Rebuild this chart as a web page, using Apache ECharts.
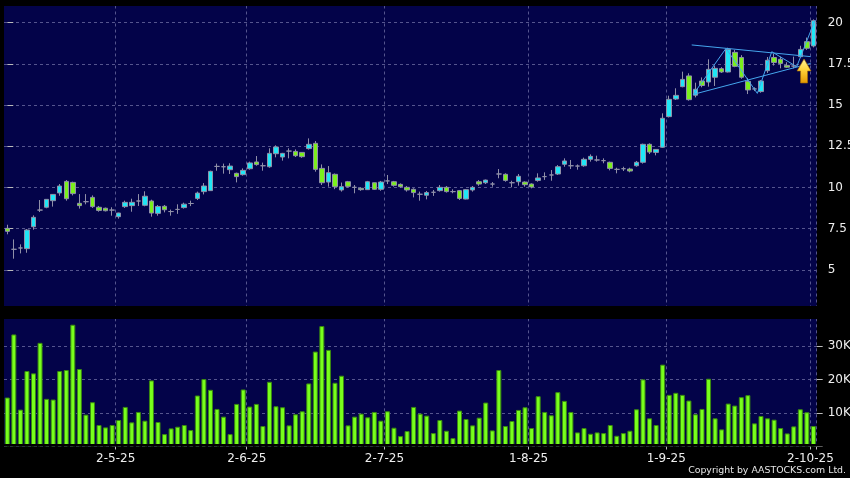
<!DOCTYPE html>
<html><head><meta charset="utf-8">
<script src="https://cdn.jsdelivr.net/npm/echarts@6/dist/echarts.min.js"></script>
<style>html,body{margin:0;padding:0;background:#000;}#c{width:850px;height:478px;}</style>
</head><body><div id="c"></div>
<script>
const categories = ['3-4-25','7-4-25','8-4-25','9-4-25','10-4-25','11-4-25','14-4-25','15-4-25','16-4-25','17-4-25','22-4-25','23-4-25','24-4-25','25-4-25','28-4-25','29-4-25','30-4-25',
'2-5-25','6-5-25','7-5-25','8-5-25','9-5-25','12-5-25','13-5-25','14-5-25','15-5-25','16-5-25','19-5-25','20-5-25','21-5-25','22-5-25','23-5-25','26-5-25','27-5-25','28-5-25','29-5-25','30-5-25',
'2-6-25','3-6-25','4-6-25','5-6-25','6-6-25','9-6-25','10-6-25','11-6-25','12-6-25','13-6-25','16-6-25','17-6-25','18-6-25','19-6-25','20-6-25','23-6-25','24-6-25','25-6-25','26-6-25','27-6-25','30-6-25',
'2-7-25','3-7-25','4-7-25','7-7-25','8-7-25','9-7-25','10-7-25','11-7-25','14-7-25','15-7-25','16-7-25','17-7-25','18-7-25','21-7-25','22-7-25','23-7-25','24-7-25','25-7-25','28-7-25','29-7-25','30-7-25','31-7-25',
'1-8-25','4-8-25','5-8-25','6-8-25','7-8-25','8-8-25','11-8-25','12-8-25','13-8-25','14-8-25','15-8-25','18-8-25','19-8-25','20-8-25','21-8-25','22-8-25','25-8-25','26-8-25','27-8-25','28-8-25','29-8-25',
'1-9-25','2-9-25','3-9-25','4-9-25','5-9-25','8-9-25','9-9-25','10-9-25','11-9-25','12-9-25','15-9-25','16-9-25','17-9-25','18-9-25','19-9-25','22-9-25','23-9-25','24-9-25','25-9-25','26-9-25','29-9-25','30-9-25',
'2-10-25'];

const tickLabels = ['2-5-25','2-6-25','2-7-25','1-8-25','1-9-25','2-10-25'];

const opens = [7.52,6.25,6.33,6.29,7.62,8.63,8.80,9.20,9.67,10.37,
10.31,9.04,9.14,9.40,8.80,8.74,8.63,8.23,8.84,8.90,
9.18,8.92,9.18,8.43,8.86,8.54,8.67,8.78,9.03,9.34,
9.75,9.81,11.28,11.26,11.08,10.86,10.78,11.14,11.55,11.32,
11.26,12.05,11.85,12.21,12.19,12.13,12.36,12.68,11.16,10.33,
10.80,9.85,10.35,10.01,9.95,9.87,10.29,9.89,10.40,10.35,
10.19,10.01,9.89,9.59,9.53,9.71,9.81,10.01,9.75,9.81,
9.30,9.85,10.35,10.29,10.21,10.82,10.80,10.29,10.35,10.33,
10.21,10.43,10.66,10.76,10.82,11.41,11.32,11.30,11.32,11.71,
11.67,11.63,11.53,11.10,11.14,11.12,11.32,11.53,12.62,12.13,
12.44,14.30,15.37,16.12,16.77,15.60,16.46,16.40,16.69,17.21,
17.01,18.20,17.89,16.44,15.98,15.82,17.09,17.89,17.78,17.41,
17.37,17.94,18.85,18.59];

const closes = [7.34,6.25,6.33,7.42,8.19,8.63,9.28,9.58,10.09,9.32,
9.63,8.90,9.14,8.84,8.61,8.59,8.63,8.45,9.10,9.10,
9.18,9.47,8.45,8.85,8.65,8.54,8.67,8.99,9.03,9.66,
10.09,10.98,11.28,11.26,11.30,10.66,11.04,11.49,11.39,11.32,
12.07,12.46,12.07,12.21,11.93,11.87,12.62,11.10,10.29,10.90,
10.05,10.05,10.07,10.01,9.87,10.35,9.89,10.33,10.40,10.13,
10.05,9.85,9.69,9.59,9.69,9.71,10.01,9.75,9.75,9.34,
9.87,10.01,10.21,10.45,10.21,10.82,10.43,10.29,10.68,10.17,
10.03,10.58,10.66,10.76,11.26,11.61,11.32,11.30,11.71,11.89,
11.67,11.63,11.16,11.10,11.14,11.00,11.53,12.62,12.15,12.31,
14.20,15.35,15.59,16.56,15.33,15.96,16.19,17.17,17.23,17.01,
18.39,17.35,16.69,15.92,15.98,16.46,17.72,17.59,17.53,17.30,
17.37,18.38,18.45,20.12];

const lows = [7.16,5.68,6.00,6.04,7.44,8.51,8.74,8.84,9.50,9.20,
9.52,8.72,8.98,8.76,8.53,8.55,8.29,8.11,8.76,8.53,
8.88,8.86,8.23,8.29,8.49,8.29,8.40,8.72,8.87,9.24,
9.58,9.81,11.02,10.84,10.82,10.31,10.72,11.08,11.32,11.02,
11.20,11.83,11.63,11.77,11.85,11.80,12.30,10.96,10.15,10.05,
9.90,9.75,10.00,9.65,9.80,9.85,9.85,9.80,10.21,10.05,
9.99,9.75,9.40,9.20,9.28,9.49,9.75,9.69,9.65,9.24,
9.28,9.75,10.10,10.21,10.05,10.56,10.35,10.01,10.11,10.05,
9.95,10.35,10.46,10.41,10.76,11.26,11.12,11.08,11.26,11.57,
11.57,11.47,11.04,10.86,11.00,10.92,11.26,11.45,12.03,11.95,
12.40,14.25,15.31,16.08,15.27,15.47,16.08,16.12,16.16,16.95,
16.98,17.30,16.60,15.67,15.85,15.75,16.95,17.40,17.23,17.25,
17.23,17.90,18.35,18.50];

const highs = [7.74,6.85,6.55,7.48,8.31,9.24,9.30,9.60,10.21,10.45,
10.35,9.60,9.60,9.52,8.88,8.78,8.80,8.47,9.20,9.32,
9.60,9.77,9.26,8.94,8.94,8.66,8.98,9.08,9.20,9.75,
10.27,11.02,11.45,11.45,11.47,10.90,11.16,11.57,11.91,11.51,
12.38,12.56,12.10,12.38,12.31,12.15,12.98,12.82,11.40,11.30,
10.85,10.30,10.40,10.15,10.00,10.40,10.30,10.40,10.76,10.40,
10.25,10.09,9.95,9.75,9.79,9.85,10.15,10.09,9.89,9.85,
9.90,10.09,10.45,10.48,10.33,11.12,10.86,10.41,10.82,10.37,
10.25,10.86,10.92,11.06,11.36,11.77,11.67,11.40,11.81,12.01,
11.93,11.77,11.57,11.20,11.26,11.20,11.61,12.66,12.68,12.33,
14.50,15.57,16.02,17.03,16.93,16.36,16.68,17.78,17.40,17.30,
18.48,18.34,18.03,16.65,16.08,16.52,17.92,18.12,17.94,17.60,
17.94,18.60,19.10,20.20];

// volume in thousands of shares
const volumesK = [14.6,33.4,11.0,22.5,21.8,30.9,14.2,14.0,22.5,22.8,
36.3,23.1,9.5,13.2,6.4,5.7,6.4,7.9,11.8,7.2,
10.3,7.7,19.7,7.3,3.7,5.4,5.9,6.4,4.9,15.2,
20.1,16.9,11.2,8.9,3.7,12.7,17.0,11.9,12.7,6.1,
19.3,12.0,11.7,6.3,9.6,10.5,18.8,28.3,35.9,28.8,
19.0,21.1,6.3,8.9,9.8,8.7,10.3,7.7,10.5,5.6,
3.1,4.6,11.8,9.8,9.2,4.0,7.9,4.7,2.5,10.7,
8.2,6.3,8.6,13.1,4.8,22.8,6.1,7.6,10.9,11.7,
5.5,15.0,10.3,9.3,16.2,13.6,10.3,4.2,5.5,3.8,
4.2,4.0,6.4,3.2,4.0,4.7,11.1,20.0,8.4,6.4,
24.4,15.4,16.0,15.4,13.7,9.6,11.2,20.2,8.4,5.1,
12.8,12.2,14.7,15.3,6.9,9.1,8.4,8.0,5.5,3.9,
6.0,11.1,10.2,6.1];

// drawn trend lines (x = bar index, y = price)
const upperLine = [[104.43, 18.65], [122.58, 17.94]];
const lowerLine = [[104.67, 15.65], [122.58, 17.53]];
const zigzagLine = [[104.67, 15.65], [109.66, 18.44], [114.44, 15.71], [116.64, 18.24], [120.45, 17.33], [123.24, 20.16]];
const arrowPoint = [[121.57, 17.07]];

const tickIdx = new Set(tickLabels.map(t => categories.indexOf(t)));
const showAt = (i) => tickIdx.has(i);

const NAVY = '#030349';
const GRID_LINE = { color: '#55558e', type: [3, 3], width: 1 };
const FONT = 'DejaVu Sans';

const chart = echarts.init(document.getElementById('c'), null, { renderer: 'canvas' });
const ohlc = categories.map((_, i) => [opens[i], closes[i], lows[i], highs[i]]);
const lineStyleTL = { color: '#45a6ee', width: 1 };

chart.setOption({
  animation: false,
  backgroundColor: '#000000',
  textStyle: { fontFamily: FONT },
  grid: [
    { left: 4, right: 33.3, top: -18.5, height: 329.6, show: true, backgroundColor: NAVY, borderWidth: 0, outerBoundsMode: 'none', containLabel: false },
    { left: 4, right: 33.3, top: 312.3, height: 134.2, show: true, backgroundColor: NAVY, borderWidth: 0, outerBoundsMode: 'none', containLabel: false }
  ],
  xAxis: [
    { type: 'category', gridIndex: 0, data: categories, boundaryGap: true,
      axisLine: { show: false }, axisTick: { show: false }, axisLabel: { show: false },
      splitLine: { show: true, interval: showAt, lineStyle: GRID_LINE } },
    { type: 'category', gridIndex: 1, data: categories, boundaryGap: true,
      axisLine: { show: false },
      axisTick: { show: true, interval: showAt, length: 3, lineStyle: { color: '#bbbbbb' } },
      axisLabel: { show: true, interval: showAt, color: '#eeeeee', fontSize: 12, fontFamily: FONT, margin: 6, padding: [0, 6, 0, 0] },
      splitLine: { show: true, interval: showAt, lineStyle: GRID_LINE } },
    { type: 'value', gridIndex: 0, min: -0.5, max: 123.5, show: false }
  ],
  yAxis: [
    { type: 'value', gridIndex: 0, position: 'right', min: 2.5, max: 22.5, interval: 2.5,
      axisLine: { show: false },
      axisTick: { show: true, length: 6, lineStyle: { color: '#bbbbbb' } },
      axisLabel: { color: '#eeeeee', fontSize: 12, fontFamily: FONT, margin: 11,
        formatter: v => (v < 4 || v > 21) ? '' : String(v) },
      splitLine: { show: true, lineStyle: GRID_LINE } },
    { type: 'value', gridIndex: 1, position: 'right', min: 0, max: 40, interval: 10,
      axisLine: { show: false },
      axisTick: { show: true, length: 6, lineStyle: { color: '#bbbbbb' } },
      axisLabel: { color: '#eeeeee', fontSize: 12, fontFamily: FONT, margin: 11,
        formatter: v => (v <= 0 || v >= 40) ? '' : v + 'K' },
      splitLine: { show: true, lineStyle: GRID_LINE } }
  ],
  series: [
    { type: 'candlestick', xAxisIndex: 0, yAxisIndex: 0, data: ohlc, barWidth: 5,
      itemStyle: { color: '#1fe6f6', color0: '#7bf01c', borderColor: '#9090a8', borderColor0: '#9090a8', borderWidth: 1 } },
    { type: 'bar', xAxisIndex: 1, yAxisIndex: 1, data: volumesK, barWidth: 5,
      itemStyle: { color: '#78ff1c', borderColor: '#3a8a10', borderWidth: 1 } },
    { type: 'line', xAxisIndex: 2, yAxisIndex: 0, data: upperLine, symbol: 'none', lineStyle: lineStyleTL, z: 5 },
    { type: 'line', xAxisIndex: 2, yAxisIndex: 0, data: lowerLine, symbol: 'none', lineStyle: lineStyleTL, z: 5 },
    { type: 'line', xAxisIndex: 2, yAxisIndex: 0, data: zigzagLine, symbol: 'none', lineStyle: lineStyleTL, z: 5 },
    { type: 'scatter', xAxisIndex: 2, yAxisIndex: 0, data: arrowPoint,
      symbol: 'path://M7,0L14,12L10.5,12L10.5,24L3.5,24L3.5,12L0,12Z', symbolSize: [14, 24], z: 6,
      itemStyle: { opacity: 1,
        color: new echarts.graphic.LinearGradient(0, 0, 0, 1, [
          { offset: 0, color: '#fff6a0' }, { offset: 0.45, color: '#ffd43a' }, { offset: 1, color: '#e39800' }]),
        borderColor: '#a86c00', borderWidth: 0.6 } }
  ],
  graphic: [
    { type: 'rect', z: 100, silent: true, shape: { x: 0, y: 0, width: 850, height: 6 }, style: { fill: '#000000' } },
    { type: 'rect', z: 100, silent: true, shape: { x: 0, y: 306, width: 850, height: 13 }, style: { fill: '#000000' } },
    { type: 'rect', z: 100, silent: true, shape: { x: 0, y: 444, width: 850, height: 2.5 }, style: { fill: '#000000' } },
    { type: 'text', z: 101, silent: true, x: 846, y: 471,
      style: { text: 'Copyright by AASTOCKS.com Ltd.', fill: '#e6e6e6', font: '9.4px "DejaVu Sans"', align: 'right', verticalAlign: 'middle' } }
  ]
});
</script>
</body></html>
